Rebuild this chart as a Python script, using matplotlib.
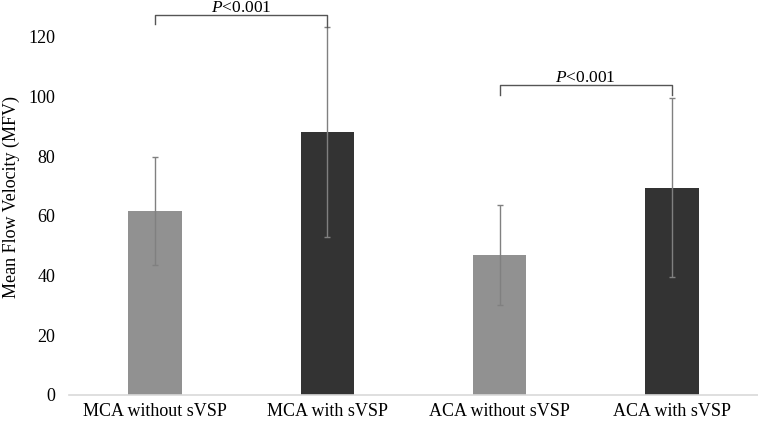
import numpy as np
import matplotlib.pyplot as plt

categories = ['MCA without sVSP', 'MCA with sVSP', 'ACA without sVSP', 'ACA with sVSP']
means = [61.7, 88.2, 47.0, 69.4]
sds = [18.0, 35.2, 16.8, 30.0]
colors = ['#919191', '#333333', '#919191', '#333333']

# significance brackets: (left bar, right bar, bracket height, left leg end, right leg end)
brackets = [(0, 1, 127.4, 124.3, 123.4), (2, 3, 103.9, 100.6, 100.6)]
p_text = r'$\mathit{P}$<0.001'

plt.rcParams['font.family'] = ['Liberation Serif', 'DejaVu Serif']
plt.rcParams['mathtext.fontset'] = 'custom'
plt.rcParams['mathtext.it'] = 'Liberation Serif:italic'

fig = plt.figure(figsize=(7.58, 4.25), dpi=100)
ax = fig.add_axes([0.091, 0.0706, 0.909, 0.9294])

x = np.arange(len(categories))
ax.bar(x, means, width=0.31, color=colors, zorder=2)
ax.errorbar(x, means, yerr=sds, fmt='none', ecolor='#808080', elinewidth=1.0,
            capsize=2, capthick=1.0, zorder=3)

for i, j, h, l1, l2 in brackets:
    ax.plot([x[i], x[i], x[j], x[j]], [l1, h, h, l2], color='#555555', lw=1.0,
            clip_on=False, zorder=4)
    ax.text((x[i] + x[j]) / 2, h + 1.0, p_text, ha='center', va='baseline',
            fontsize=12.5, clip_on=False)

ax.set_xlim(-0.5, 3.5)
ax.set_ylim(0, 132.4)
ax.set_yticks([0, 20, 40, 60, 80, 100, 120])
ax.set_xticks(x)
ax.set_xticklabels(categories, fontsize=13)
ax.tick_params(axis='y', labelsize=13, length=0, pad=10)
ax.tick_params(axis='x', length=0, pad=6)
ax.set_ylabel('Mean Flow Velocity (MFV)', fontsize=13)
ax.yaxis.set_label_coords(-0.071, 0.5)

for s in ['top', 'right', 'left']:
    ax.spines[s].set_visible(False)
ax.spines['bottom'].set_color('#d9d9d9')
ax.spines['bottom'].set_linewidth(1.2)

fig.savefig('out.png', dpi=100)
